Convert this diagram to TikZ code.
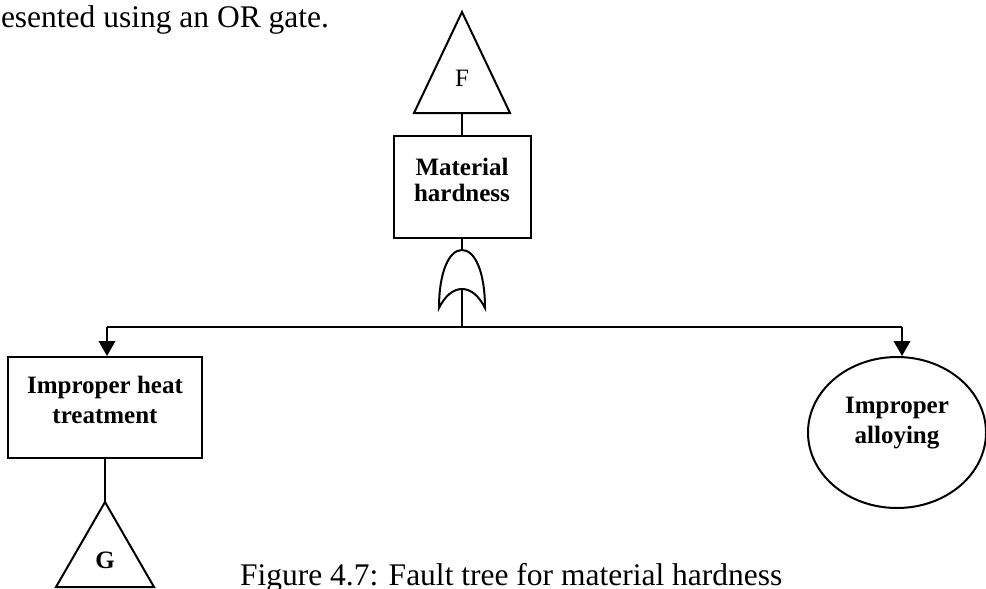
\documentclass[tikz,border=0pt]{standalone}
\usepackage{fontspec}
\setmainfont{Liberation Serif}
\usetikzlibrary{arrows.meta,positioning,shapes.geometric}

\begin{document}
\begin{tikzpicture}[x=0.4pt,y=-0.4pt,line width=0.8pt,
    frame/.style={draw,inner sep=0pt},
    lbl/.style={inner sep=0pt,align=center,font=\fontsize{10}{12}\selectfont\bfseries},
    txt/.style={inner sep=0pt,font=\fontsize{12.6}{15}\selectfont},
    arr/.style={-{Triangle[length=6pt,width=6.6pt]}}]

  \useasboundingbox (0,0) rectangle (986,588);

  \node[txt,anchor=base west] (intro) at (0,27) {esented using an OR gate.};
  \node[txt,anchor=base west] (caption) at (239,585) {Figure 4.7: Fault tree for material hardness};

  % top event with transfer-in F
  \node[frame,minimum width=54.8pt,minimum height=40.8pt] (mh) at (462,187) {};
  \node[lbl,below=8.8pt of mh.north] (mhT) {Material\\[-1.4pt]hardness};
  \coordinate (fBase) at (462,113);
  \draw (fBase) -- (mh.north);
  \draw (414,113) -- (462,12) -- (510,113) -- cycle;
  \node[inner sep=0pt,font=\fontsize{10}{12}\selectfont,anchor=base] (fLbl) at (462,86) {F};

  % OR gate
  \coordinate (gTop) at (462,250);
  \coordinate (gIn) at (462,289);
  \coordinate (join) at (462,327);
  \draw (mh.south) -- (gTop);
  \draw (439,308) .. controls (439,272) and (449,250) .. (gTop)
    .. controls (475,250) and (485,272) .. (485,308)
    .. controls (479,296) and (471,289) .. (gIn)
    .. controls (453,289) and (445,296) .. (439,308) -- cycle;
  \draw (gIn) -- (join);

  % branches
  \coordinate (jl) at (107,327);
  \coordinate (jr) at (902,327);
  \draw (jl) -- (jr);

  \node[frame,minimum width=77.6pt,minimum height=40.4pt] (ih) at (105,407.5) {};
  \node[lbl,below=7.6pt of ih.north] (ihT) {Improper heat\\treatment};
  \node[frame,ellipse,minimum width=71.2pt,minimum height=60.4pt] (ia) at (897,432.5) {};
  \node[lbl,below=16pt of ia.north] (iaT) {Improper\\alloying};
  \draw[arr] (jl) -- (jl |- ih.north);
  \draw[arr] (jr) -- (jr |- ia.north);

  % transfer-out G
  \coordinate (gApex) at (105,502);
  \draw (ih.south) -- (gApex);
  \draw (56,587) -- (gApex) -- (154,587) -- cycle;
  \node[lbl,anchor=base] (gLbl) at (105,568) {G};
\end{tikzpicture}
\end{document}
